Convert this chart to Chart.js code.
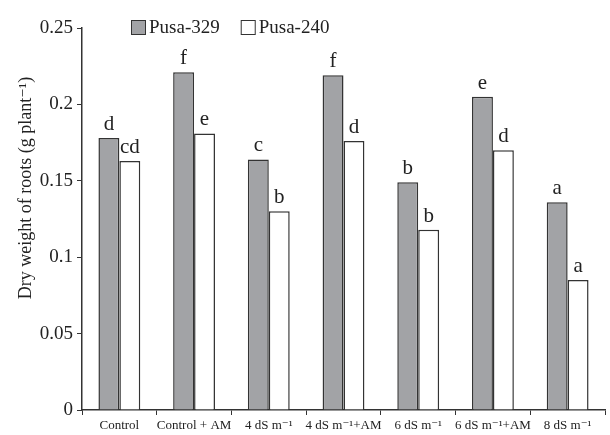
<!DOCTYPE html>
<html>
<head>
<meta charset="utf-8">
<script src="https://cdn.jsdelivr.net/npm/chart.js@4"></script>
<style>
  html, body { margin: 0; padding: 0; background: #fff; }
  #wrap { width: 610px; height: 435px; }
</style>
</head>
<body>
<div id="wrap"><canvas id="chart" width="610" height="435"></canvas></div>
<script>
const categories = ['Control', 'Control + AM', '4 dS m\u207B\u00B9', '4 dS m\u207B\u00B9+AM', '6 dS m\u207B\u00B9', '6 dS m\u207B\u00B9+AM', '8 dS m\u207B\u00B9']
const pusa329 = [0.178, 0.221, 0.164, 0.219, 0.149, 0.205, 0.136]
const pusa240 = [0.163, 0.181, 0.130, 0.176, 0.118, 0.170, 0.085]
const letters329 = ['d', 'f', 'c', 'f', 'b', 'e', 'a']
const letters240 = ['cd', 'e', 'b', 'd', 'b', 'd', 'a']
const yTitle = 'Dry weight of roots (g plant\u207B\u00B9)'

const serif = '"Liberation Serif", "DejaVu Serif", serif'
const lineColor = '#333'

// letters above bars
const letterPlugin = {
    id: 'letters',
    afterDatasetsDraw(chart) {
        const ctx = chart.ctx
        ctx.save()
        ctx.font = '21px ' + serif
        ctx.fillStyle = '#222'
        ctx.textAlign = 'center'
        ctx.textBaseline = 'bottom'
        chart.data.datasets.forEach((ds, i) => {
            const meta = chart.getDatasetMeta(i)
            meta.data.forEach((bar, j) => {
                ctx.fillText(ds.letters[j], bar.x, bar.y - 3)
            })
        })
        ctx.restore()
    }
}

// legend and y title, placed like the original figure
const extrasPlugin = {
    id: 'extras',
    afterDraw(chart) {
        const ctx = chart.ctx
        ctx.save()
        ctx.font = '19px ' + serif
        ctx.textBaseline = 'middle'
        let x = 131
        const y = 27
        chart.data.datasets.forEach(ds => {
            ctx.fillStyle = ds.backgroundColor
            ctx.strokeStyle = lineColor
            ctx.lineWidth = 1
            ctx.fillRect(x, y - 7, 14, 14)
            ctx.strokeRect(x + 0.5, y - 6.5, 14, 14)
            ctx.fillStyle = '#222'
            ctx.fillText(ds.label, x + 18, y + 1)
            x += 18 + ctx.measureText(ds.label).width + 21
        })

        ctx.translate(26, 188)
        ctx.rotate(-Math.PI / 2)
        ctx.textAlign = 'center'
        ctx.font = '18px ' + serif
        ctx.fillText(yTitle, 0, 0)
        ctx.restore()
    }
}

new Chart(document.getElementById('chart'), {
    type: 'bar',
    data: {
        labels: categories,
        datasets: [
            {
                label: 'Pusa-329',
                data: pusa329,
                letters: letters329,
                backgroundColor: '#a2a3a6',
                borderColor: lineColor,
                borderWidth: 1.5,
            },
            {
                label: 'Pusa-240',
                data: pusa240,
                letters: letters240,
                backgroundColor: '#ffffff',
                borderColor: lineColor,
                borderWidth: 1.5,
            },
        ]
    },
    options: {
        responsive: false,
        animation: false,
        maintainAspectRatio: false,
        categoryPercentage: 0.56,
        barPercentage: 1.0,
        layout: {
            padding: { top: 28, right: 5, left: 0, bottom: 0 }
        },
        plugins: {
            legend: { display: false },
            tooltip: { enabled: false }
        },
        scales: {
            x: {
                grid: {
                    drawOnChartArea: false,
                    color: lineColor,
                    tickLength: 5,
                },
                border: { color: lineColor, width: 1.5 },
                ticks: {
                    color: '#222',
                    padding: 3,
                    maxRotation: 0,
                    autoSkip: false,
                    font: { family: serif, size: 13 }
                },
                afterFit: (s) => { s.height = 25 }
            },
            y: {
                min: 0,
                max: 0.25,
                grid: {
                    drawOnChartArea: false,
                    color: lineColor,
                    tickLength: 5,
                },
                border: { color: lineColor, width: 1.5 },
                ticks: {
                    stepSize: 0.05,
                    color: '#222',
                    padding: 4,
                    font: { family: serif, size: 19 },
                    callback: (v) => String(parseFloat(v.toFixed(2)))
                },
                afterFit: (s) => { s.width = 82 }
            }
        }
    },
    plugins: [letterPlugin, extrasPlugin]
})
</script>
</body>
</html>
